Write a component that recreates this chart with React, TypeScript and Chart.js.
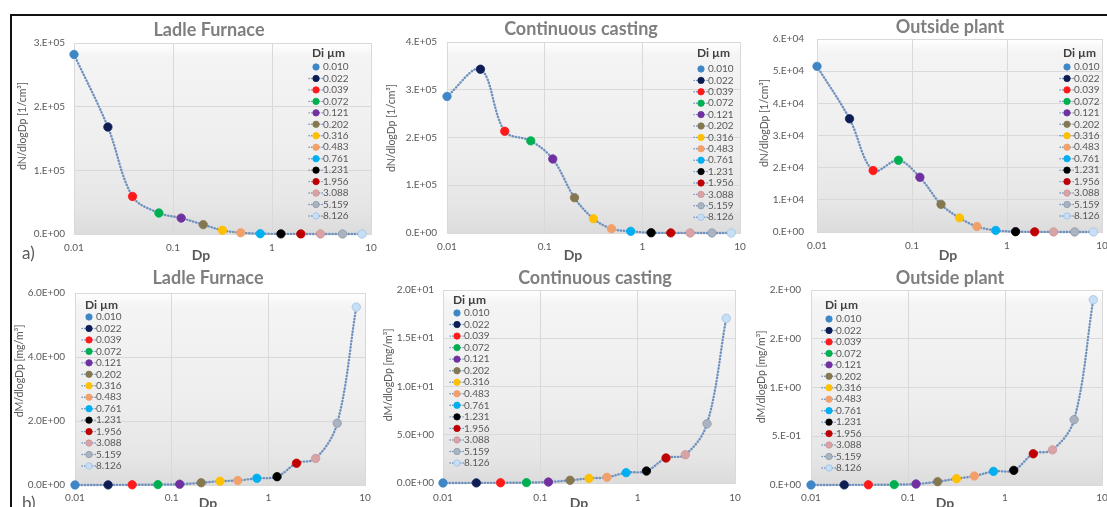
import React, { useEffect, useRef } from "react";
import { Chart, registerables } from "chart.js";

Chart.register(...registerables);

const FONT = "Lato, 'Open Sans', sans-serif";

// particle size classes (Di, µm)
const DI = [0.010, 0.022, 0.039, 0.072, 0.121, 0.202, 0.316, 0.483, 0.761, 1.231, 1.956, 3.088, 5.159, 8.126];
const DI_LABELS = ["0.010", "0.022", "0.039", "0.072", "0.121", "0.202", "0.316", "0.483", "0.761", "1.231", "1.956", "3.088", "5.159", "8.126"];
const DI_COLORS = ["#3f86c6", "#0e1e55", "#ff1a1a", "#00b050", "#7030a0", "#857850", "#ffc000", "#f2a06b", "#00aff0", "#000000", "#c00000", "#d9a3a6", "#a9b4c0", "#c8def5"];
const DI_BORDERS = ["#3f86c6", "#0e1e55", "#ff1a1a", "#00b050", "#7030a0", "#857850", "#ffc000", "#f2a06b", "#00aff0", "#000000", "#c00000", "#c99499", "#8f9aa8", "#9dc3e6"];

const X_TICKS = [0.01, 0.1, 1, 10];
const X_TICK_LABELS = ["0.01", "0.1", "1", "10"];

// a) number size distributions dN/dlogDp [1/cm³]
const N_LADLE = [282000, 168000, 59000, 33000, 25000, 14700, 5800, 2000, 500, 200, 120, 60, 30, 15];
const N_CASTING = [286000, 343000, 213000, 193000, 155000, 74000, 30000, 9000, 3500, 500, 200, 100, 50, 20];
const N_OUTSIDE = [51500, 35200, 19100, 22300, 17000, 8600, 4400, 1700, 500, 100, 50, 20, 10, 5];

// b) mass size distributions dM/dlogDp [mg/m³]
const M_LADLE = [0.001, 0.003, 0.006, 0.012, 0.025, 0.07, 0.12, 0.14, 0.21, 0.26, 0.68, 0.83, 1.93, 5.56];
const M_CASTING = [0.003, 0.01, 0.02, 0.04, 0.1, 0.28, 0.48, 0.59, 1.07, 1.24, 2.59, 2.93, 6.14, 17.07];
const M_OUTSIDE = [0.0005, 0.001, 0.002, 0.004, 0.01, 0.034, 0.065, 0.092, 0.14, 0.15, 0.32, 0.36, 0.67, 1.9];

// y tick values and labels
const YT_N_LADLE = [0, 100000, 200000, 300000];
const YL_N_LADLE = ["0.E+00", "1.E+05", "2.E+05", "3.E+05"];
const YT_N_CASTING = [0, 100000, 200000, 300000, 400000];
const YL_N_CASTING = ["0.E+00", "1.E+05", "2.E+05", "3.E+05", "4.E+05"];
const YT_N_OUTSIDE = [0, 10000, 20000, 30000, 40000, 50000, 60000];
const YL_N_OUTSIDE = ["0.E+00", "1.E+04", "2.E+04", "3.E+04", "4.E+04", "5.E+04", "6.E+04"];
const YT_M_LADLE = [0, 2, 4, 6];
const YL_M_LADLE = ["0.0E+00", "2.0E+00", "4.0E+00", "6.0E+00"];
const YT_M_CASTING = [0, 5, 10, 15, 20];
const YL_M_CASTING = ["0.0E+00", "5.0E+00", "1.0E+01", "1.5E+01", "2.0E+01"];
const YT_M_OUTSIDE = [0, 0.5, 1, 1.5, 2];
const YL_M_OUTSIDE = ["0.E+00", "5.E-01", "1.E+00", "2.E+00", "2.E+00"];

const TITLE_LF = "Ladle Furnace";
const TITLE_CC = "Continuous casting";
const TITLE_OP = "Outside plant";
const Y_TITLE_N = "dN/dlogDp [1/cm³]";
const Y_TITLE_M = "dM/dlogDp [mg/m³]";
const X_TITLE = "Dp";
const LEGEND_TITLE = "Di µm";

const LINE_COLOR = "#6f91bd";

type PanelCfg = {
  id: string;
  box: [number, number, number, number];
  area: [number, number, number, number];
  title: string;
  titleAt: [number, number];
  xTitleAt: [number, number];
  yTitle: string;
  yTitleAt: [number, number];
  values: number[];
  yTicks: number[];
  yLabels: string[];
  legend: { x: number; titleY: number; firstY: number; step: number };
  xTickPad: number;
  yTickPad: number;
};

const PANELS: PanelCfg[] = [
  {
    id: "tl", box: [12, 17, 368, 245], area: [74, 43, 371, 234],
    title: TITLE_LF, titleAt: [209, 30], xTitleAt: [201, 255],
    yTitle: Y_TITLE_N, yTitleAt: [23, 126],
    values: N_LADLE, yTicks: YT_N_LADLE, yLabels: YL_N_LADLE,
    legend: { x: 312, titleY: 53, firstY: 67, step: 11.46 }, xTickPad: 8, yTickPad: 9,
  },
  {
    id: "tm", box: [380, 17, 370, 245], area: [447, 42, 740, 233],
    title: TITLE_CC, titleAt: [581, 29], xTitleAt: [573, 255],
    yTitle: Y_TITLE_N, yTitleAt: [392, 128],
    values: N_CASTING, yTicks: YT_N_CASTING, yLabels: YL_N_CASTING,
    legend: { x: 697, titleY: 53, firstY: 69, step: 11.4 }, xTickPad: 8, yTickPad: 10,
  },
  {
    id: "tr", box: [750, 17, 357, 245], area: [817, 39, 1107, 232],
    title: TITLE_OP, titleAt: [950, 27], xTitleAt: [948, 255],
    yTitle: Y_TITLE_N, yTitleAt: [765, 123],
    values: N_OUTSIDE, yTicks: YT_N_OUTSIDE, yLabels: YL_N_OUTSIDE,
    legend: { x: 1063, titleY: 53, firstY: 67, step: 11.46 }, xTickPad: 8, yTickPad: 13,
  },
  {
    id: "bl", box: [12, 262, 368, 245], area: [75, 293, 365, 485],
    title: TITLE_LF, titleAt: [208, 278], xTitleAt: [208, 503],
    yTitle: Y_TITLE_M, yTitleAt: [20, 371],
    values: M_LADLE, yTicks: YT_M_LADLE, yLabels: YL_M_LADLE,
    legend: { x: 85, titleY: 305, firstY: 317, step: 11.46 }, xTickPad: 7, yTickPad: 10,
  },
  {
    id: "bm", box: [380, 262, 370, 245], area: [443, 290, 735, 483],
    title: TITLE_CC, titleAt: [595, 278], xTitleAt: [579, 503],
    yTitle: Y_TITLE_M, yTitleAt: [389, 375],
    values: M_CASTING, yTicks: YT_M_CASTING, yLabels: YL_M_CASTING,
    legend: { x: 453, titleY: 300, firstY: 313, step: 11.54 }, xTickPad: 9, yTickPad: 9,
  },
  {
    id: "br", box: [750, 262, 357, 245], area: [811, 290, 1104, 485],
    title: TITLE_OP, titleAt: [950, 278], xTitleAt: [945, 503],
    yTitle: Y_TITLE_M, yTitleAt: [762, 377],
    values: M_OUTSIDE, yTicks: YT_M_OUTSIDE, yLabels: YL_M_OUTSIDE,
    legend: { x: 825, titleY: 305, firstY: 319, step: 11.46 }, xTickPad: 7, yTickPad: 10,
  },
];

function makeDecor(p: PanelCfg) {
  const ox = p.box[0];
  const oy = p.box[1];
  return {
    id: "decor_" + p.id,
    beforeDraw(chart: any) {
      const { ctx, chartArea: a } = chart;
      const g = ctx.createLinearGradient(0, a.top, 0, a.bottom);
      g.addColorStop(0, "#ffffff");
      g.addColorStop(0.07, "#f4f4f4");
      g.addColorStop(0.55, "#eeeeee");
      g.addColorStop(0.85, "#e6e6e6");
      g.addColorStop(1, "#dcdcdc");
      ctx.save();
      ctx.fillStyle = g;
      ctx.fillRect(a.left, a.top, a.right - a.left, a.bottom - a.top);
      ctx.restore();
    },
    afterDraw(chart: any) {
      const ctx = chart.ctx;
      ctx.save();
      ctx.textAlign = "center";
      ctx.textBaseline = "middle";
      ctx.fillStyle = "#7f7f7f";
      ctx.font = `bold 18px ${FONT}`;
      ctx.fillText(p.title, p.titleAt[0] - ox, p.titleAt[1] - oy);
      ctx.fillStyle = "#595959";
      ctx.font = `bold 14px ${FONT}`;
      ctx.fillText(X_TITLE, p.xTitleAt[0] - ox, p.xTitleAt[1] - oy);
      ctx.save();
      ctx.translate(p.yTitleAt[0] - ox, p.yTitleAt[1] - oy);
      ctx.rotate(-Math.PI / 2);
      ctx.font = `10.5px ${FONT}`;
      ctx.fillText(p.yTitle, 0, 0);
      ctx.restore();

      // legend
      const L = p.legend;
      ctx.textAlign = "left";
      ctx.fillStyle = "#404040";
      ctx.font = `bold 12px ${FONT}`;
      ctx.fillText(LEGEND_TITLE, L.x - ox, L.titleY - oy);
      ctx.font = `10px ${FONT}`;
      DI_LABELS.forEach((lab, i) => {
        const y = L.firstY + i * L.step - oy;
        const dx = L.x + 4 - ox;
        if (i > 0) {
          ctx.save();
          ctx.strokeStyle = LINE_COLOR;
          ctx.lineWidth = 1.4;
          ctx.lineCap = "round";
          ctx.setLineDash([0.3, 2.3]);
          ctx.beginPath();
          ctx.moveTo(dx - 7, y);
          ctx.lineTo(dx + 7, y);
          ctx.stroke();
          ctx.restore();
        }
        ctx.beginPath();
        ctx.arc(dx, y, 3.2, 0, Math.PI * 2);
        ctx.fillStyle = DI_COLORS[i];
        ctx.fill();
        ctx.lineWidth = 0.8;
        ctx.strokeStyle = DI_BORDERS[i];
        ctx.stroke();
        ctx.fillStyle = "#595959";
        ctx.fillText(lab, L.x + 11 - ox, y);
      });
      ctx.restore();
    },
  };
}

function Panel({ p }: { p: PanelCfg }) {
  const ref = useRef<HTMLCanvasElement | null>(null);
  useEffect(() => {
    if (!ref.current) return;
    const [cx, cy, cw, ch] = p.box;
    const [L, T, R, B] = p.area;
    const chart = new Chart(ref.current, {
      type: "line",
      data: {
        datasets: [
          {
            data: DI.map((x, i) => ({ x, y: p.values[i] })),
            borderColor: LINE_COLOR,
            borderWidth: 2.4,
            borderDash: [0.4, 2.8],
            borderCapStyle: "round",
            tension: 0.35,
            fill: false,
            pointRadius: 4.2,
            pointBorderWidth: 0.8,
            pointBackgroundColor: DI_COLORS,
            pointBorderColor: DI_BORDERS,
            clip: false as any,
          },
        ],
      },
      options: {
        animation: false,
        responsive: false,
        maintainAspectRatio: false,
        devicePixelRatio: 1,
        layout: { padding: { top: T - cy, left: 0, right: cx + cw - R, bottom: 0 } },
        plugins: { legend: { display: false }, tooltip: { enabled: false }, title: { display: false } },
        scales: {
          x: {
            type: "logarithmic",
            min: X_TICKS[0],
            max: X_TICKS[X_TICKS.length - 1],
            afterBuildTicks: (s: any) => {
              s.ticks = X_TICKS.map((v) => ({ value: v }));
            },
            afterFit: (s: any) => {
              s.height = cy + ch - B;
              s.paddingLeft = 0;
              s.paddingRight = 0;
            },
            ticks: {
              autoSkip: false,
              maxRotation: 0,
              padding: p.xTickPad,
              color: "#595959",
              font: { family: FONT, size: 10 },
              callback: (_v: any, i: number) => X_TICK_LABELS[i],
            },
            grid: { color: "#d9d9d9", drawTicks: false, lineWidth: 1 },
            border: { display: true, color: "#d9d9d9" },
          },
          y: {
            type: "linear",
            min: p.yTicks[0],
            max: p.yTicks[p.yTicks.length - 1],
            afterBuildTicks: (s: any) => {
              s.ticks = p.yTicks.map((v) => ({ value: v }));
            },
            afterFit: (s: any) => {
              s.width = L - cx;
              s.paddingTop = 0;
              s.paddingBottom = 0;
            },
            ticks: {
              padding: p.yTickPad,
              color: "#595959",
              font: { family: FONT, size: 10 },
              callback: (_v: any, i: number) => p.yLabels[i],
            },
            grid: { color: "#d9d9d9", drawTicks: false, lineWidth: 1 },
            border: { display: true, color: "#d9d9d9" },
          },
        },
      } as any,
      plugins: [makeDecor(p)],
    });
    return () => chart.destroy();
  }, [p]);
  const [x, y, w, h] = p.box;
  return (
    <canvas
      ref={ref}
      width={w}
      height={h}
      style={{ position: "absolute", left: x, top: y, width: w, height: h }}
    />
  );
}

export default function App() {
  return (
    <div
      style={{
        position: "absolute",
        left: 0,
        top: 0,
        width: 1107,
        height: 507,
        overflow: "hidden",
        background: "#ffffff",
        fontFamily: FONT,
      }}
    >
      <div
        style={{
          position: "absolute",
          left: 10,
          top: 14,
          width: 1097,
          height: 500,
          borderTop: "2px solid #111",
          borderLeft: "2px solid #111",
        }}
      />
      {PANELS.map((p) => (
        <Panel key={p.id} p={p} />
      ))}
      <div style={{ position: "absolute", left: 22, top: 244, fontSize: 17, lineHeight: "17px", color: "#595959" }}>a)</div>
      <div style={{ position: "absolute", left: 22, top: 494, fontSize: 17, lineHeight: "17px", color: "#595959" }}>b)</div>
    </div>
  );
}
